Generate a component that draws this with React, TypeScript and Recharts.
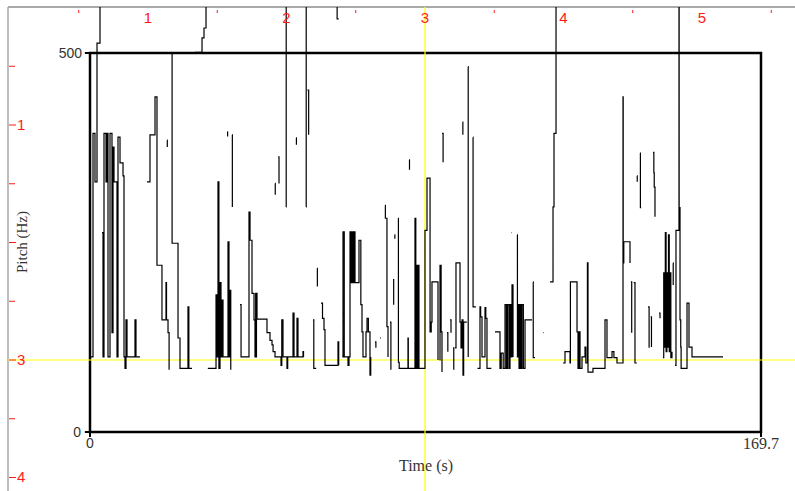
import React from "react";
import {
  ComposedChart,
  Line,
  XAxis,
  YAxis,
  ReferenceArea,
  ReferenceLine,
  ReferenceDot,
} from "recharts";

type Pt = [number, number | null];

// pitch track: [time s, pitch Hz], null = unvoiced gap
const track0to13: Pt[] = [
  [0, 99], [0.76, 394], [1.26, 330], [1.77, 513], [2.53, 600], [2.6, null],
  [3.03, 263], [3.29, 99], [3.54, 394], [4.05, 330], [4.3, 394], [4.55, 99],
  [5.06, 394], [5.56, 131], [5.82, 376], [6.07, 330], [6.83, 99], [7.08, 389],
  [7.59, 355], [8.35, 338], [8.6, 99], [8.85, 84], [9.1, 148], [9.36, 99],
  [11.38, 148], [11.63, 99], [12.65, 99], [12.7, null],
];

const track14to30: Pt[] = [
  [14.42, 330], [15.17, 392], [16.44, 442], [16.94, 220], [18.2, 148],
  [19.22, 197], [19.35, 148], [19.73, 131], [20.0, 82], [20.1, null],
  [19.5, 385], [19.55, 376], [19.6, null],
  [20.74, 500], [20.76, 249], [22.26, 124], [22.76, 84], [24.78, 165],
  [25.0, 84], [25.8, 84], [25.9, null],
  [26.56, 501], [28.33, 520], [28.83, 533], [29.34, 600], [29.4, null],
];

const track30to54: Pt[] = [
  [29.8, 84], [31.87, 181], [32.12, 99], [32.37, 330], [32.6, 84], [32.88, 197],
  [33.13, 99], [33.38, 174], [33.64, 99], [34.9, 251], [35.15, 99], [35.41, 187],
  [35.6, 82], [35.7, null],
  [34.75, 396], [34.8, 390], [34.85, null],
  [35.91, 392], [36.0, 297], [36.1, null],
  [37.94, 168], [38.2, 99], [39.71, 99], [40.21, 290], [40.47, 253], [40.97, 183],
  [41.48, 148], [41.73, 99], [41.9, 183], [42.0, 99], [42.1, 183], [42.24, 149],
  [44.76, 131], [45.52, 121], [46.03, 115], [46.3, 106], [46.79, 99], [48.31, 88],
  [48.5, 148], [48.81, 99], [49.82, 84], [50.0, 99], [51.34, 157], [51.6, 99],
  [52.35, 150], [52.6, 99], [53.87, 106], [54.0, 99], [54.1, null],
];

const trackHigh46to63: Pt[] = [
  [46.79, 328], [46.85, 313], [46.9, null],
  [47.6, 363], [47.8, 328], [47.9, null],
  [49.57, 297], [49.62, 600], [49.7, null],
  [52.1, 388], [52.2, 379], [52.3, null],
  [54.63, 297], [54.68, 600], [54.8, null],
  [55.0, 451], [55.3, 392], [55.4, null],
  [62.47, 600], [62.5, 545], [62.9, 545], [63.0, null],
];

const track56to74: Pt[] = [
  [56.4, 148], [56.6, 84], [57.2, 84], [57.3, null],
  [57.41, 216], [57.5, 192], [57.6, null],
  [58.42, 170], [58.8, 150], [59.18, 135], [59.43, 88], [61.96, 88], [62.72, 119],
  [62.9, 88], [63.0, null],
  [63.8, 99], [63.99, 264], [64.3, 99], [65.25, 88], [65.5, 99], [65.76, 264],
  [66.0, 197], [66.25, 264], [66.5, 197], [66.75, 264], [67.02, 197], [67.5, 197],
  [68.03, 253], [68.5, 168], [68.79, 132], [69.04, 99], [69.8, 132], [70.06, 150],
  [70.4, 132], [70.81, 75], [71.0, 99], [71.1, null],
  [72.08, 119], [72.3, 111], [72.4, null],
  [73.34, 124], [73.6, 124], [73.7, null],
];

const track74to102: Pt[] = [
  [74.6, 299], [74.7, 282], [75.1, 139], [75.37, 99], [75.5, null],
  [75.87, 145], [76.1, 82], [76.2, null],
  [76.63, 201], [76.8, 168], [76.9, null],
  [77.0, 260], [77.1, 255], [77.2, null],
  [77.9, 282], [78.0, 92], [78.2, 84], [80.42, 124], [80.5, 84], [82.19, 282],
  [82.4, 84], [82.6, 220], [82.8, 84], [83.0, 220], [83.2, 84], [84.72, 266],
  [85.23, 335], [86.0, 132], [86.3, 145], [86.49, 198], [88.01, 95], [88.1, null],
  [80.7, 359], [80.8, 346], [80.9, null],
  [88.4, 95], [88.52, 220], [88.8, 132], [89.02, 79], [89.1, null],
  [89.02, 394], [89.3, 356], [89.4, null],
  [90.29, 131], [90.5, 106], [90.6, null],
  [91.05, 148], [91.3, 131], [91.4, null],
  [91.81, 111], [92.0, 82], [92.1, null],
  [92.3, 111], [92.56, 223], [93.58, 145], [93.83, 111], [94.1, 148], [94.33, 75],
  [94.5, 145], [95.3, 145], [95.4, null],
  [94.2, 409], [94.3, 392], [94.4, null],
  [95.6, 482], [95.65, 99], [95.7, null],
  [96.86, 389], [96.88, 165], [97.6, 165], [97.7, null],
  [98.0, 84], [98.63, 165], [98.8, 152], [99.14, 99], [99.9, 164], [100.1, 150],
  [100.4, 84], [101.5, 84], [101.6, null],
];

const track102to136: Pt[] = [
  [102.43, 132], [103.69, 84], [104.0, 104], [104.5, 84], [104.96, 168], [105.3, 84],
  [105.6, 168], [105.97, 84], [106.22, 168], [106.5, 99], [106.73, 194], [106.98, 99],
  [107.1, null],
  [106.6, 263], [106.7, 263], [106.8, null],
  [107.99, 260], [108.1, 99], [108.24, 168], [108.5, 84], [108.75, 168], [109.0, 84],
  [109.26, 168], [109.6, 84], [110.02, 148], [111.79, 148], [111.9, null],
  [112.04, 198], [112.1, 98], [112.54, 98], [112.6, null],
  [114.57, 131], [114.7, 131], [114.8, null],
  [116.34, 198], [117.1, 297], [117.35, 394], [117.86, 600], [117.9, null],
  [119.63, 91], [120.13, 106], [121.4, 91], [121.5, 198], [123.17, 132], [123.42, 84],
  [123.7, 132], [123.93, 84], [124.43, 99], [125.19, 112], [125.4, 91], [125.8, 223],
  [125.95, 79], [127.21, 84], [130.25, 148], [130.75, 98], [132.02, 106], [132.5, 98],
  [133.28, 91], [134.55, 91], [134.8, 442], [134.85, 223], [135.0, 251], [136.07, 251],
  [136.57, 223], [136.7, null],
];

const track136to160: Pt[] = [
  [136.8, 198], [137.0, 131], [137.1, null],
  [137.5, 197], [137.83, 91], [138.3, 91], [138.4, null],
  [138.34, 338], [138.4, 330], [138.5, null],
  [139.1, 368], [139.2, 296], [139.4, 296], [139.5, null],
  [141.12, 165], [141.4, 111], [141.5, null],
  [141.8, 152], [142.0, 112], [142.1, null],
  [142.39, 369], [142.6, 342], [142.7, 323], [142.89, 284], [143.0, null],
  [143.9, 157], [144.16, 150], [144.3, null],
  [144.92, 98], [145.1, 210], [145.3, 112], [145.5, 263], [145.7, 106], [145.9, 210],
  [146.1, 112], [146.3, 260], [146.5, 106], [146.7, 210], [146.9, 98], [147.19, 106],
  [147.3, null],
  [147.45, 223], [147.5, 194], [147.6, null],
  [147.95, 88], [148.2, 266], [148.96, 600], [149.0, 296], [149.22, 148], [149.4, 112],
  [149.5, 84], [150.99, 170], [151.49, 112], [152.25, 99], [160.09, 99], [160.1, null],
];

const pitchData = [
  track0to13,
  track14to30,
  track30to54,
  trackHigh46to63,
  track56to74,
  track74to102,
  track102to136,
  track136to160,
]
  .flat()
  .map(([t, hz]) => ({ t, hz }));

// plot ranges
const TIME_END = 169.7;
const HZ_TOP = 500;
const TIME_DOMAIN: [number, number] = [-20.74, 178.3];
const HZ_DOMAIN: [number, number] = [-77.84, 560.69];

// red screen ruler (top / left)
const RULER_X_DOMAIN: [number, number] = [-0.0108, 5.6715];
const RULER_Y_DOMAIN: [number, number] = [-0.0043, 4.1149];
const RULER_X_TICKS = [0.5, 1, 1.5, 2, 2.5, 3, 3.5, 4, 4.5, 5, 5.5];
const RULER_Y_TICKS = [0.5, 1, 1.5, 2, 2.5, 3, 3.5, 4];
const CURSOR = 3;

const RED = "#ff1a1a";
const FRAME_GRAY = "#a9a9a9";
const LABEL_COLOR = "#333";
const SERIF = "'Liberation Serif', 'Times New Roman', serif";
const SANS = "'Liberation Sans', Arial, sans-serif";

function TopTick(props: any) {
  const { x, payload } = props;
  const v = payload?.value;
  if (Number.isInteger(v)) {
    return (
      <text x={x} y={23} textAnchor="middle" fill={RED} fontSize={15} fontFamily={SANS}>
        {v}
      </text>
    );
  }
  return <line x1={x} x2={x} y1={10} y2={13} stroke={RED} strokeWidth={1} />;
}

function LeftTick(props: any) {
  const { y, payload } = props;
  const v = payload?.value;
  const major = Number.isInteger(v);
  return (
    <g>
      <line x1={9} x2={major ? 16 : 15} y1={y} y2={y} stroke={RED} strokeWidth={1} />
      {major && v !== 2 ? (
        <text x={17} y={y + 5} textAnchor="start" fill={RED} fontSize={15} fontFamily={SANS}>
          {v}
        </text>
      ) : null}
    </g>
  );
}

export default function App() {
  const cornerLabel = { fill: LABEL_COLOR, fontSize: 14, fontFamily: SANS };
  const endLabel = { fill: LABEL_COLOR, fontSize: 16, fontFamily: SERIF };

  return (
    <div style={{ position: "absolute", left: 0, top: 0, width: 795, height: 491, background: "#fff" }}>
      <ComposedChart
        width={795}
        height={491}
        data={pitchData}
        margin={{ top: 0, right: 0, bottom: 0, left: 0 }}
      >
        <XAxis
          xAxisId="ruler"
          dataKey="rulerX"
          orientation="top"
          type="number"
          domain={RULER_X_DOMAIN}
          allowDataOverflow
          ticks={RULER_X_TICKS}
          interval={0}
          height={7}
          tickLine={false}
          axisLine={false}
          tick={TopTick}
        />
        <YAxis
          yAxisId="ruler"
          dataKey="rulerY"
          orientation="left"
          type="number"
          reversed
          domain={RULER_Y_DOMAIN}
          allowDataOverflow
          ticks={RULER_Y_TICKS}
          interval={0}
          width={8}
          tickLine={false}
          axisLine={false}
          tick={LeftTick}
        />
        <XAxis xAxisId="t" dataKey="t" type="number" domain={TIME_DOMAIN} allowDataOverflow hide />
        <YAxis yAxisId="hz" type="number" domain={HZ_DOMAIN} allowDataOverflow hide />

        {/* gray window frame along the ruler edges */}
        <ReferenceLine xAxisId="ruler" yAxisId="ruler" y={RULER_Y_DOMAIN[0]} stroke={FRAME_GRAY} strokeWidth={2} />
        <ReferenceLine xAxisId="ruler" yAxisId="ruler" x={RULER_X_DOMAIN[0]} stroke={FRAME_GRAY} strokeWidth={1.5} />

        <ReferenceLine xAxisId="ruler" yAxisId="ruler" x={CURSOR} stroke="#ffff00" strokeWidth={1.2} />
        <ReferenceLine xAxisId="ruler" yAxisId="ruler" y={CURSOR} stroke="#ffff00" strokeWidth={1.2} />

        <ReferenceArea
          xAxisId="t"
          yAxisId="hz"
          x1={0}
          x2={TIME_END}
          y1={0}
          y2={HZ_TOP}
          fill="none"
          fillOpacity={0}
          stroke="#000"
          strokeWidth={2.5}
        />
        {/* little ticks on the box corners */}
        <ReferenceLine xAxisId="t" yAxisId="hz" segment={[{ x: -1.3, y: HZ_TOP }, { x: 0, y: HZ_TOP }]} stroke="#000" strokeWidth={2} />
        <ReferenceLine xAxisId="t" yAxisId="hz" segment={[{ x: -1.3, y: 0 }, { x: 0, y: 0 }]} stroke="#000" strokeWidth={2} />
        <ReferenceLine xAxisId="t" yAxisId="hz" segment={[{ x: 0, y: 0 }, { x: 0, y: -6.6 }]} stroke="#000" strokeWidth={2} />
        <ReferenceLine xAxisId="t" yAxisId="hz" segment={[{ x: TIME_END, y: 0 }, { x: TIME_END, y: -6.6 }]} stroke="#000" strokeWidth={2} />

        <ReferenceDot xAxisId="t" yAxisId="hz" x={0} y={HZ_TOP} r={0.01} fill="none" stroke="none"
          label={{ value: "500", position: "left", offset: 8, ...cornerLabel }} />
        <ReferenceDot xAxisId="t" yAxisId="hz" x={0} y={0} r={0.01} fill="none" stroke="none"
          label={{ value: "0", position: "left", offset: 9, ...cornerLabel }} />
        <ReferenceDot xAxisId="t" yAxisId="hz" x={0} y={0} r={0.01} fill="none" stroke="none"
          label={{ value: "0", position: "bottom", offset: 6, ...cornerLabel }} />
        <ReferenceDot xAxisId="t" yAxisId="hz" x={TIME_END} y={0} r={0.01} fill="none" stroke="none"
          label={{ value: "169.7", position: "bottom", offset: 6, ...endLabel }} />

        <Line
          xAxisId="t"
          yAxisId="hz"
          dataKey="hz"
          type="stepAfter"
          stroke="#000"
          strokeWidth={1.2}
          dot={false}
          activeDot={false}
          connectNulls={false}
          isAnimationActive={false}
        />
      </ComposedChart>

      <div
        style={{
          position: "absolute",
          left: 22,
          top: 242,
          transform: "translate(-50%, -50%) rotate(-90deg)",
          whiteSpace: "nowrap",
          fontFamily: SERIF,
          fontSize: 15,
          color: LABEL_COLOR,
          lineHeight: 1,
        }}
      >
        Pitch (Hz)
      </div>
      <div
        style={{
          position: "absolute",
          left: 426,
          top: 466,
          transform: "translate(-50%, -50%)",
          whiteSpace: "nowrap",
          fontFamily: SERIF,
          fontSize: 16,
          color: LABEL_COLOR,
          lineHeight: 1,
        }}
      >
        Time (s)
      </div>
    </div>
  );
}
